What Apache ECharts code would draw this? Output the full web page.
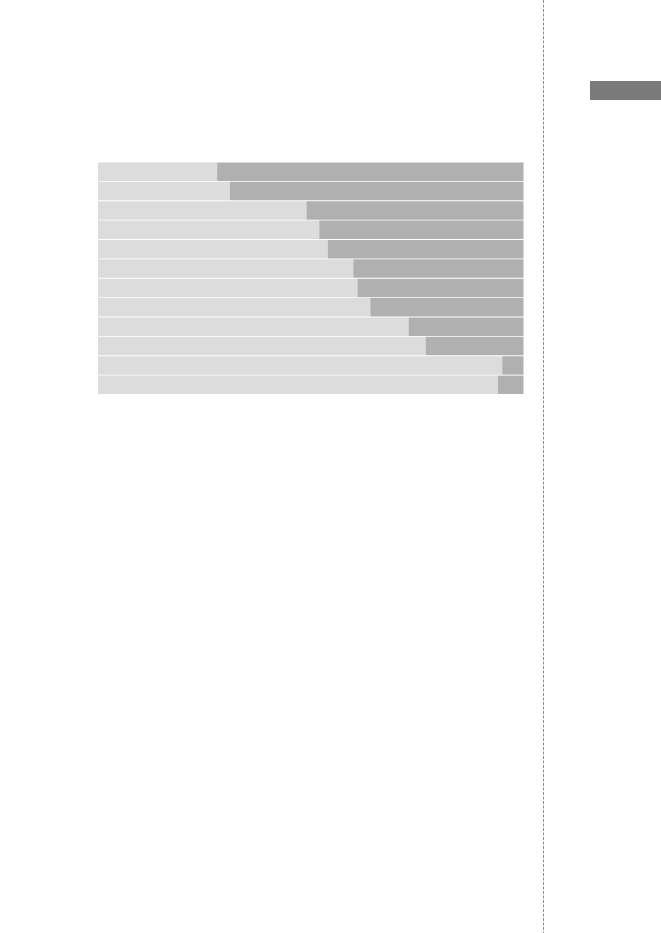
<!DOCTYPE html>
<html>
<head>
<meta charset="utf-8">
<script src="https://cdn.jsdelivr.net/npm/echarts@6/dist/echarts.min.js"></script>
<style>
    html,body{margin:0;padding:0;background:#fff;}
    #chart{width:661px;height:933px;}
</style>
</head>
<body>
<div id="chart"></div>
<script>
// rows from top to bottom
var rows=['1','2','3','4','5','6','7','8','9','10','11','12'];
var lightPart=[28,31,49,52,54,60,61,64,73,77,95,94];
var darkPart=[72,69,51,48,46,40,39,36,27,23,5,6];

var chart=echarts.init(document.getElementById('chart'));
var option={
    animation:false,
    backgroundColor:'#fff',
    grid:{
        left:98,
        top:162,
        width:425.5,
        height:232.5
    },
    xAxis:{
        type:'value',
        min:0,
        max:100,
        show:false
    },
    yAxis:{
        type:'category',
        data:rows,
        inverse:true,
        show:false
    },
    series:[{
        name:'light',
        type:'bar',
        stack:'all',
        data:lightPart,
        barCategoryGap:'5%',
        itemStyle:{color:'#dcdcdc'}
    },{
        name:'dark',
        type:'bar',
        stack:'all',
        data:darkPart,
        barCategoryGap:'5%',
        itemStyle:{color:'#b0b0b0'}
    }],
    graphic:[{
        type:'line',
        shape:{x1:543.5,y1:0,x2:543.5,y2:933},
        style:{stroke:'#8c8c8c',lineWidth:1,lineDash:[3,1.5]}
    },{
        type:'rect',
        shape:{x:590,y:81,width:71,height:19},
        style:{fill:'#7a7a7a'}
    }]
};
chart.setOption(option);
</script>
</body>
</html>
